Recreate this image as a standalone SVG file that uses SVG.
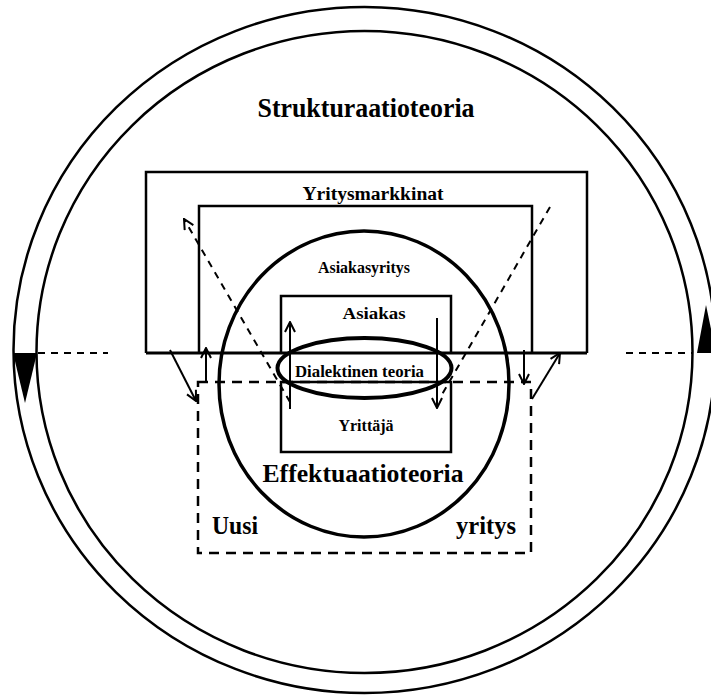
<svg xmlns="http://www.w3.org/2000/svg" width="711" height="696" viewBox="0 0 711 696">
  <style>
    .lbl { font-family: "Liberation Serif", "Times New Roman", serif; font-weight: bold; fill: #000; text-anchor: middle; }
    .box { fill: none; stroke: #000; stroke-width: 2.5; }
    .dash { fill: none; stroke: #000; stroke-width: 2; stroke-dasharray: 7 6; }
    .arr { fill: none; stroke: #000; stroke-width: 2; }
  </style>
  <defs>
    <marker id="head" viewBox="0 0 12 12" refX="11" refY="6" markerWidth="12" markerHeight="12" markerUnits="userSpaceOnUse" orient="auto">
      <path d="M1,1 L11,6 L1,11" fill="none" stroke="#000" stroke-width="2"/>
    </marker>
  </defs>
  <rect width="711" height="696" fill="#fff"/>

  <!-- outer ring -->
  <g id="ring">
    <ellipse cx="364.5" cy="350" rx="351" ry="343" fill="none" stroke="#000" stroke-width="2.5"/>
    <ellipse cx="364.5" cy="352" rx="328" ry="321" fill="none" stroke="#000" stroke-width="2.5"/>
    <polygon points="13,353 37,353 25,403" fill="#000"/>
    <polygon points="697,353 716,353 706,305" fill="#000"/>
    <text class="lbl" x="366" y="117" font-size="27" textLength="217" lengthAdjust="spacingAndGlyphs">Strukturaatioteoria</text>
  </g>

  <g id="yritysmarkkinat">
    <polyline class="box" points="146,353 146,172 587,172 587,353"/>
    <text class="lbl" x="373" y="200" font-size="18" textLength="141" lengthAdjust="spacingAndGlyphs">Yritysmarkkinat</text>
  </g>

  <g id="asiakasyritys">
    <polyline class="box" points="199,353 199,206 532,206 532,353"/>
    <text class="lbl" x="364" y="273" font-size="17" textLength="92" lengthAdjust="spacingAndGlyphs">Asiakasyritys</text>
  </g>

  <g id="asiakas">
    <polyline class="box" points="281,353 281,296 451,296 451,353"/>
    <text class="lbl" x="374" y="319" font-size="17" textLength="63" lengthAdjust="spacingAndGlyphs">Asiakas</text>
  </g>

  <!-- boundary line shared by the upper boxes -->
  <line x1="146" y1="353" x2="587" y2="353" stroke="#000" stroke-width="3"/>

  <g id="yrittaja">
    <rect class="box" x="281" y="382" width="170" height="70"/>
    <text class="lbl" x="366" y="431" font-size="16">Yrittäjä</text>
  </g>

  <g id="uusi-yritys">
    <rect x="198" y="382" width="333" height="171" fill="none" stroke="#000" stroke-width="2.5" stroke-dasharray="10 7"/>
    <text class="lbl" x="235" y="534" font-size="26" textLength="46" lengthAdjust="spacingAndGlyphs">Uusi</text>
    <text class="lbl" x="486" y="534" font-size="26" textLength="60" lengthAdjust="spacingAndGlyphs">yritys</text>
  </g>

  <g id="effektuaatio">
    <ellipse cx="364" cy="384" rx="145" ry="153" fill="none" stroke="#000" stroke-width="3.5"/>
    <text class="lbl" x="363" y="482" font-size="26" textLength="201" lengthAdjust="spacingAndGlyphs">Effektuaatioteoria</text>
  </g>

  <g id="dialektinen">
    <ellipse cx="364.5" cy="368" rx="87" ry="30" fill="none" stroke="#000" stroke-width="4"/>
    <text class="lbl" x="359.5" y="377" font-size="16" textLength="129" lengthAdjust="spacingAndGlyphs">Dialektinen teoria</text>
  </g>

  <g id="connectors">
    <!-- side dashed guides -->
    <line class="dash" x1="38" y1="353" x2="108" y2="353"/>
    <line class="dash" x1="626" y1="353" x2="693" y2="353"/>
    <!-- long diagonal dashed arrows -->
    <line class="dash" x1="290" y1="402" x2="184" y2="219" marker-end="url(#head)"/>
    <line class="dash" x1="550" y1="207" x2="440" y2="398"/>
    <!-- vertical arrows through the dialectic ellipse -->
    <line class="arr" x1="290" y1="409" x2="290" y2="322" marker-end="url(#head)"/>
    <line class="arr" x1="437" y1="318" x2="437" y2="408" marker-end="url(#head)"/>
    <!-- small arrows at the box boundary -->
    <line class="arr" x1="170" y1="350" x2="196" y2="401" marker-end="url(#head)"/>
    <line class="arr" x1="206" y1="382" x2="206" y2="348" marker-end="url(#head)"/>
    <line class="arr" x1="524" y1="350" x2="524" y2="384" marker-end="url(#head)"/>
    <line class="arr" x1="532" y1="399" x2="560" y2="353" marker-end="url(#head)"/>
  </g>
</svg>
